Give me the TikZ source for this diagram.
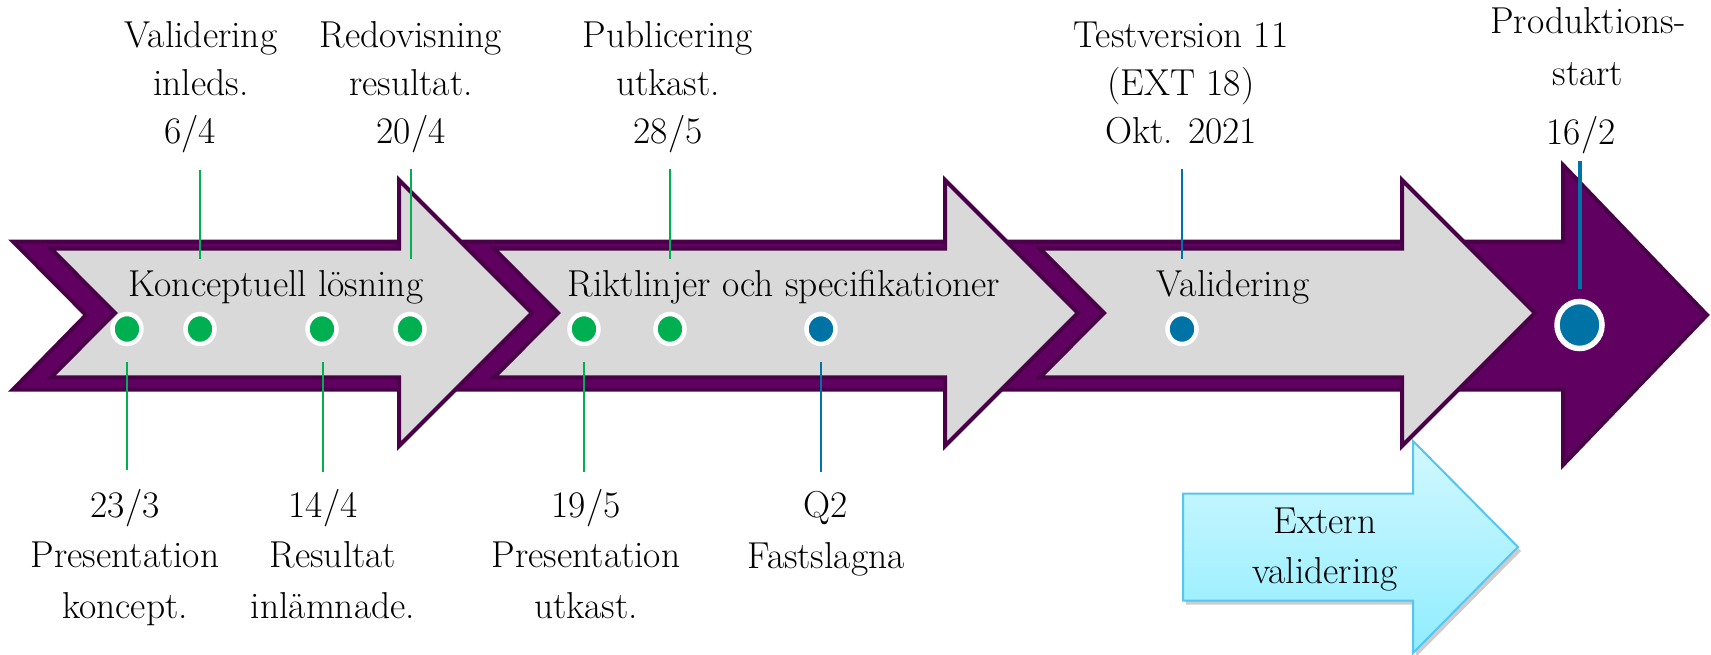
\documentclass[tikz,border=0pt]{standalone}
\usepackage{fontspec}
\usetikzlibrary{shapes.geometric,shadows}
\definecolor{purp}{HTML}{600060}
\definecolor{purpdark}{HTML}{4A0048}
\definecolor{greyfill}{HTML}{D9D9D9}
\definecolor{dgreen}{HTML}{00B050}
\definecolor{dblue}{HTML}{0073A6}
\definecolor{cyTop}{HTML}{D2F8FF}
\definecolor{cyBot}{HTML}{8FEDFF}
\definecolor{cyLine}{HTML}{55C5F2}
\newcommand\lblfont[1]{\fontsize{37.5}{#1}\selectfont}
\begin{document}
\begin{tikzpicture}[x=1pt,y=-1pt,
  lbl/.style={font=\lblfont{48}, align=center, inner sep=0pt, anchor=base, text=black},
  band/.style={fill=purp, draw=purpdark, line width=4pt, line join=miter},
  chev/.style={fill=greyfill, draw=purpdark, line width=4pt, line join=miter},
  gdot/.style={ellipse, minimum width=29pt, minimum height=30pt, inner sep=0pt, fill=dgreen, draw=white, line width=4.5pt},
  bdot/.style={gdot, fill=dblue},
  bigdot/.style={bdot, minimum width=45pt, minimum height=47pt, line width=5.5pt},
  gl/.style={draw=dgreen, line width=2pt},
  bl/.style={draw=dblue, line width=2pt},
  extarrow/.style={top color=cyTop, bottom color=cyBot, draw=cyLine, line width=2pt, line join=miter,
    drop shadow={shadow xshift=3pt, shadow yshift=-4pt, opacity=0.2, fill=black}},
]
\useasboundingbox (0,0) rectangle (1711,654);

% background purple band arrow
\draw[band] (13,241.5) -- (1563,241.5) -- (1563,165) -- (1707,315) -- (1563,465) -- (1563,389.5) -- (13,389.5) -- (86,315) -- cycle;

% grey chevron arrows
\draw[chev] (51,248.7) -- (399,248.7) -- (399,180) -- (532,313) -- (399,446) -- (399,377.3) -- (51,377.3) -- (115,313) -- cycle;
\draw[chev] (494,248.7) -- (945,248.7) -- (945,180) -- (1078,313) -- (945,446) -- (945,377.3) -- (494,377.3) -- (558,313) -- cycle;
\draw[chev] (1040,248.7) -- (1402,248.7) -- (1402,180) -- (1535,313) -- (1402,446) -- (1402,377.3) -- (1040,377.3) -- (1104,313) -- cycle;

% phase titles
\node[lbl] (k1) at (276,296) {Konceptuell lösning};
\node[lbl] (k2) at (784,296) {Riktlinjer och specifikationer};
\node[lbl] (k3) at (1233,296) {Validering};

% connector end points
\coordinate (t1a) at (200,170);  \coordinate (t1b) at (200,259);
\coordinate (t2a) at (411,169);  \coordinate (t2b) at (411,259);
\coordinate (t3a) at (670,169);  \coordinate (t3b) at (670,259);
\coordinate (t4a) at (1182,169); \coordinate (t4b) at (1182,259);
\coordinate (t5a) at (1580,161); \coordinate (t5b) at (1580,289);
\coordinate (u1a) at (127,362);  \coordinate (u1b) at (127,470);
\coordinate (u2a) at (323,362);  \coordinate (u2b) at (323,472);
\coordinate (u3a) at (584,362);  \coordinate (u3b) at (584,472);
\coordinate (u4a) at (821,362);  \coordinate (u4b) at (821,472);

\draw[gl] (t1a) -- (t1b);
\draw[gl] (t2a) -- (t2b);
\draw[gl] (t3a) -- (t3b);
\draw[bl] (t4a) -- (t4b);
\draw[bl, line width=4pt] (t5a) -- (t5b);
\draw[gl] (u1a) -- (u1b);
\draw[gl] (u2a) -- (u2b);
\draw[gl] (u3a) -- (u3b);
\draw[bl] (u4a) -- (u4b);

% milestone dots
\node[gdot] (d1) at (127,329) {};
\node[gdot] (d2) at (200,329) {};
\node[gdot] (d3) at (322,329) {};
\node[gdot] (d4) at (410,329) {};
\node[gdot] (d5) at (584,329) {};
\node[gdot] (d6) at (670,329) {};
\node[bdot] (d7) at (821,329) {};
\node[bdot] (d8) at (1182,329) {};
\node[bigdot] (d9) at (1579.5,325) {};

% top labels (anchor base = baseline of last line)
\node[lbl] (a1) at (201,143) {Validering\\inleds.\\6/4\hspace*{22pt}};
\node[lbl] (a2) at (411,143) {Redovisning\\resultat.\\20/4};
\node[lbl] (a3) at (668,143) {Publicering\\utkast.\\28/5};
\node[lbl] (a4) at (1181,143) {Testversion 11\\(EXT 18)\\Okt. 2021};
\node[lbl] (a5) at (1588,144) {Produktions-\\[4pt]start\\[11pt]16/2\hspace*{14pt}};

% bottom labels
\node[lbl, font=\lblfont{50.5}] (b1) at (125,618) {23/3\\Presentation\\koncept.};
\node[lbl, font=\lblfont{50.5}] (b2) at (333,618) {14/4\hspace*{20pt}\\Resultat\\inlämnade.};
\node[lbl, font=\lblfont{50.5}] (b3) at (586,618) {19/5\\Presentation\\utkast.};
\node[lbl, font=\lblfont{50.5}] (b4) at (826,568) {Q2\\Fastslagna};

% external validation arrow
\draw[extarrow] (1183,493.5) -- (1413,493.5) -- (1413,441) -- (1518,547) -- (1413,653) -- (1413,600.5) -- (1183,600.5) -- cycle;
\node[lbl, font=\lblfont{50}] (e) at (1325,583) {Extern\\validering};
\end{tikzpicture}
\end{document}
